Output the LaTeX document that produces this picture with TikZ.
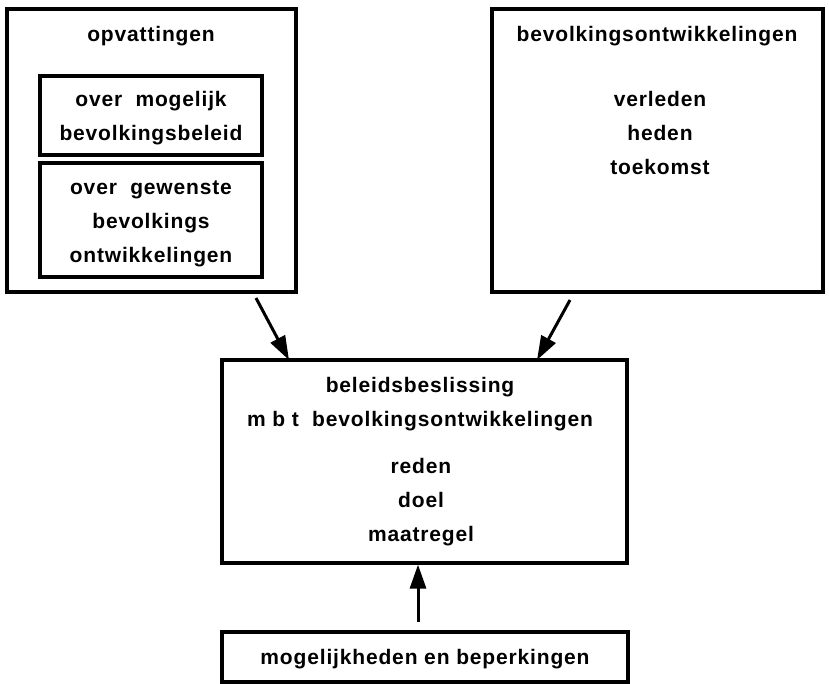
\documentclass[tikz,border=0pt]{standalone}
\usepackage{fontspec}
\setmainfont[LetterSpace=4]{Liberation Sans}
\usetikzlibrary{arrows.meta}

\begin{document}
\begin{tikzpicture}[x=1pt, y=-1pt,
        kader/.style={draw, line width=3.2pt, inner sep=0pt},
        regel/.style={font=\fontsize{21}{34}\selectfont\bfseries, align=center, inner sep=0pt},
        pijl/.style={line width=3pt, -{Triangle[length=24pt, width=16pt]}}]
        \useasboundingbox (0,0) rectangle (829,683);

        % Draw the box with the opinions
        \node[kader, minimum width=289, minimum height=283] (opv) at (151.5,150.5) {};
        \node[regel] (opvtitel) at (151,36) {opvattingen};
        \node[kader, minimum width=222, minimum height=79] (beleid) at (151,115.5) {};
        \node[regel] (beleidtekst) at (151,118) {over\ \ mogelijk\\bevolkingsbeleid};
        \node[kader, minimum width=222, minimum height=114] (gewenst) at (151,220) {};
        \node[regel] (gewensttekst) at (151,224) {over\ \ gewenste\\bevolkings\\ontwikkelingen};

        % Draw the box with the population trends
        \node[kader, minimum width=331, minimum height=283] (ontw) at (657.5,150.5) {};
        \node[regel] (ontwtitel) at (657,36) {bevolkingsontwikkelingen};
        \node[regel] (ontwtekst) at (660,133) {verleden\\heden\\toekomst};

        % Draw the decision box
        \node[kader, minimum width=405, minimum height=203] (besluit) at (424.5,461.5) {};
        \node[regel] (besluittitel) at (420,404) {beleidsbeslissing\\m b t\ \ bevolkingsontwikkelingen};
        \node[regel] (besluittekst) at (421,502) {reden\\doel\\maatregel};

        % Draw the box with the possibilities
        \node[kader, minimum width=406, minimum height=50] (kansen) at (425,657) {};
        \node[regel] (kansentekst) at (425,659) {mogelijkheden en beperkingen};

        % Draw the arrows
        \coordinate (van1) at (256,298);
        \coordinate (naar1) at (289,360);
        \draw[pijl] (van1) -- (naar1);
        \coordinate (van2) at (570,300);
        \coordinate (naar2) at (537,360);
        \draw[pijl] (van2) -- (naar2);
        \coordinate (van3) at (418,622);
        \draw[pijl] (van3) -- (van3 |- besluit.south);
    \end{tikzpicture}
\end{document}
